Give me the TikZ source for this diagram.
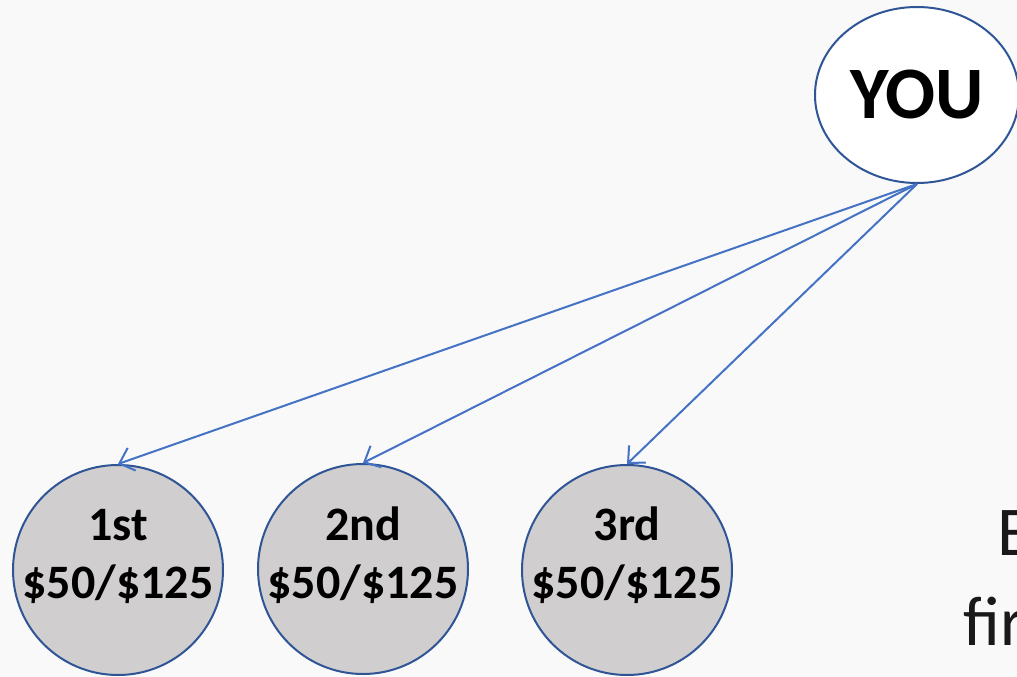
\documentclass[tikz,border=0pt]{standalone}
\usepackage{fontspec}
\setmainfont{Carlito}
\usetikzlibrary{arrows.meta,shapes.geometric}
\definecolor{bg}{HTML}{F9F9F9}
\definecolor{edge}{HTML}{2F5597}
\definecolor{arr}{HTML}{4472C4}
\definecolor{cfill}{HTML}{D0CECE}
\tikzset{
  place/.style={circle, draw=edge, line width=2pt, fill=cfill, minimum size=210pt, inner sep=0pt},
  lbl/.style={font=\fontsize{48}{56}\selectfont\bfseries, anchor=base, inner sep=0pt},
  link/.style={draw=arr, line width=2pt, -{Straight Barb[length=13pt,width=24pt,line width=2pt]}},
  big/.style={font=\fontsize{70}{84}\selectfont, anchor=base west, inner sep=0pt, text=black!90}
}
\begin{document}
\begin{tikzpicture}[x=1pt,y=-1pt]
\fill[bg] (0,0) rectangle (1017,677);
\useasboundingbox (0,0) rectangle (1017,677);
\node[ellipse, draw=edge, line width=2pt, fill=white, minimum width=204pt, minimum height=176pt, inner sep=0pt] (you) at (917,95) {};
\node[font=\fontsize{74}{80}\selectfont\bfseries, anchor=base, inner sep=0pt] (youtxt) at (917,118) {YOU};
\node[place] (c1) at (118,570) {};
\node[place] (c2) at (363,569) {};
\node[place] (c3) at (627,570) {};
\node[lbl] (t1a) at (118,540) {1st};
\node[lbl] (t1b) at (118,598) {\$50/\$125};
\node[lbl] (t2a) at (363,540) {2nd};
\node[lbl] (t2b) at (363,598) {\$50/\$125};
\node[lbl] (t3a) at (627,540) {3rd};
\node[lbl] (t3b) at (627,598) {\$50/\$125};
\draw[link] (you.south) -- (c1.north);
\draw[link] (you.south) -- (c2.north);
\draw[link] (you.south) -- (c3.north);
\node[big] (e) at (997,555) {E};
\node[big] (fir) at (963,645) {fir};
\end{tikzpicture}
\end{document}
